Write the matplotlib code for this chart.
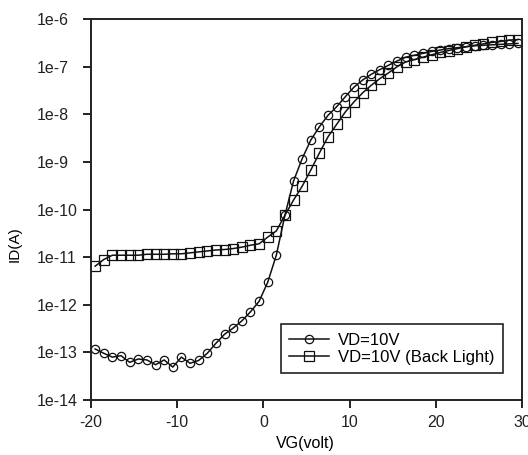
import numpy as np
import matplotlib
matplotlib.use('Agg')
import matplotlib.pyplot as plt
from matplotlib.ticker import FixedLocator, FixedFormatter

plt.rcParams['font.family'] = ['Liberation Sans', 'DejaVu Sans']
plt.rcParams['axes.unicode_minus'] = False

# gate voltage sweep (V)
vg = np.arange(-19.5, 30.0, 1.0)

# log10 of drain current (A)
log_id_dark = [
    -12.93, -13.02, -13.10, -13.07, -13.21, -13.14, -13.16, -13.26, -13.16, -13.31,
    -13.10, -13.23, -13.17, -13.02, -12.81, -12.62, -12.49, -12.34, -12.15, -11.93,
    -11.53, -10.96, -10.12, -9.40, -8.93, -8.54, -8.26, -8.02, -7.84, -7.63,
    -7.43, -7.28, -7.16, -7.06, -6.97, -6.88, -6.80, -6.76, -6.72, -6.68,
    -6.65, -6.62, -6.60, -6.58, -6.56, -6.55, -6.54, -6.53, -6.52, -6.51,
]
log_id_light = [
    -11.19, -11.05, -10.96, -10.96, -10.96, -10.96, -10.94, -10.94, -10.94, -10.93,
    -10.93, -10.91, -10.89, -10.87, -10.85, -10.84, -10.82, -10.79, -10.75, -10.72,
    -10.58, -10.45, -10.12, -9.80, -9.51, -9.17, -8.81, -8.47, -8.21, -7.95,
    -7.74, -7.55, -7.39, -7.25, -7.13, -7.00, -6.90, -6.85, -6.80, -6.75,
    -6.70, -6.66, -6.62, -6.58, -6.55, -6.52, -6.49, -6.47, -6.44, -6.43,
]

id_dark = 10.0 ** np.array(log_id_dark)
id_light = 10.0 ** np.array(log_id_light)

ytick_vals = [1e-14, 1e-13, 1e-12, 1e-11, 1e-10, 1e-9, 1e-8, 1e-7, 1e-6]
ytick_labels = ['1e-14', '1e-13', '1e-12', '1e-11', '1e-10', '1e-9', '1e-8', '1e-7', '1e-6']
xtick_vals = [-20, -10, 0, 10, 20, 30]

fig = plt.figure(figsize=(5.28, 4.55), dpi=100)
ax = fig.add_axes([0.172, 0.121, 0.817, 0.837])

ink = '#111111'
ax.plot(vg, id_dark, color=ink, lw=1.1, marker='o', ms=6.0, mfc='none',
        mec=ink, mew=0.9, label='VD=10V')
ax.plot(vg, id_light, color=ink, lw=1.1, marker='s', ms=6.6, mfc='none',
        mec=ink, mew=0.9, label='VD=10V (Back Light)')

ax.set_yscale('log')
ax.set_xlim(-20, 30)
ax.set_ylim(1e-14, 1e-6)
ax.yaxis.set_major_locator(FixedLocator(ytick_vals))
ax.yaxis.set_major_formatter(FixedFormatter(ytick_labels))
ax.yaxis.set_minor_locator(FixedLocator([]))
ax.set_xticks(xtick_vals)

for s in ax.spines.values():
    s.set_linewidth(1.4)
    s.set_color('#222222')
ax.tick_params(direction='out', length=5.8, width=1.4, labelsize=11.5, colors='#222222')
ax.tick_params(axis='x', pad=5)
# y tick labels are left-aligned in the original
ax.tick_params(axis='y', pad=33)
for lab in ax.get_yticklabels():
    lab.set_horizontalalignment('left')

ax.set_xlabel('VG(volt)', fontsize=11.5)
ax.set_ylabel('ID(A)', fontsize=11)
ax.xaxis.set_label_coords(0.497, -0.095)
ax.yaxis.set_label_coords(-0.16, 0.41)

leg = ax.legend(loc='lower right', bbox_to_anchor=(0.956, 0.071), borderaxespad=0,
                numpoints=1, handlelength=2.4, fontsize=12, frameon=True,
                fancybox=False, borderpad=0.5, labelspacing=0.12, handletextpad=0.55)
leg.get_frame().set_edgecolor('#222222')
leg.get_frame().set_linewidth(1.2)
leg.get_frame().set_alpha(1)

fig.savefig('out.png', dpi=100)
